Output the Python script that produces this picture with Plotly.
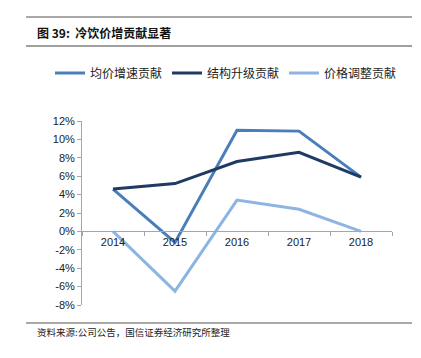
import plotly.graph_objects as go

years = ["2014", "2015", "2016", "2017", "2018"]
price_growth = [4.6, -1.2, 11.0, 10.9, 5.9]
structure_upgrade = [4.6, 5.2, 7.6, 8.6, 5.9]
price_adjust = [0.0, -6.5, 3.4, 2.4, 0.0]
series_names = ["均价增速贡献", "结构升级贡献", "价格调整贡献"]
colors = ["#4A7EBB", "#1F3A63", "#8EB4E3"]
y_ticks = list(range(-8, 13, 2))
y_tick_labels = [f"{v}%" for v in y_ticks]

# page offset (default body margin)
OFF = 8
W, H = 421 - OFF, 358 - OFF
# plot area in page pixels
PX0, PX1, PY0, PY1 = 82, 392, 121, 305
L, R, T, B = PX0 - OFF, W - (PX1 - OFF), PY0 - OFF, H - (PY1 - OFF)
pw, ph = W - L - R, H - T - B

def px(x):
    return (x - OFF - L) / pw

def py(y):
    return (H - B - (y - OFF)) / ph

fig = go.Figure()
for name, vals, c in zip(series_names, [price_growth, structure_upgrade, price_adjust], colors):
    fig.add_trace(go.Scatter(x=years, y=vals, mode="lines", name=name,
                             line=dict(color=c, width=3)))

font_num = "Liberation Sans, Arial, sans-serif"
font_cjk = "Noto Sans CJK SC, sans-serif"

fig.update_layout(
    width=W, height=H,
    margin=dict(l=L, r=R, t=T, b=B, autoexpand=False),
    paper_bgcolor="white", plot_bgcolor="white",
    showlegend=True,
    legend=dict(orientation="h", x=px(50), y=py(73), xanchor="left", yanchor="middle",
                font=dict(family=font_cjk, size=12, color="#222"),
                itemwidth=30, tracegroupgap=0, bgcolor="rgba(0,0,0,0)"),
    xaxis=dict(type="category", range=[-0.5, 4.5], anchor="free", position=8 / 20,
               showline=True, linecolor="#A6A6A6", linewidth=1,
               ticks="outside", tickson="boundaries", ticklen=4, tickcolor="#A6A6A6",
               showgrid=False, zeroline=False,
               tickfont=dict(family=font_num, size=11, color="#222")),
    yaxis=dict(range=[-8, 12], tickmode="array", tickvals=y_ticks, ticktext=y_tick_labels,
               showline=True, linecolor="#A6A6A6", linewidth=1,
               ticks="outside", ticklen=4, tickcolor="#A6A6A6",
               showgrid=False, zeroline=False,
               tickfont=dict(family=font_num, size=11, color="#222")),
)

def hline(y, x0, x1, color, width):
    fig.add_shape(type="line", xref="paper", yref="paper",
                  x0=px(x0), x1=px(x1), y0=py(y), y1=py(y),
                  line=dict(color=color, width=width))

hline(17, 26, 412, "#8C8C8C", 1.5)
hline(46, 26, 412, "#404040", 1.2)
hline(323, 26, 412, "#8C8C8C", 1.5)

fig.add_annotation(text="<b>图 39:  冷饮价增贡献显著</b>", xref="paper", yref="paper",
                   x=px(35), y=py(32), xanchor="left", yanchor="middle", showarrow=False,
                   font=dict(family=font_cjk, size=12, color="#111"))
fig.add_annotation(text="资料来源:公司公告，国信证券经济研究所整理", xref="paper", yref="paper",
                   x=px(35), y=py(332), xanchor="left", yanchor="middle", showarrow=False,
                   font=dict(family=font_cjk, size=9.5, color="#222"))

fig.write_html("out.html")
